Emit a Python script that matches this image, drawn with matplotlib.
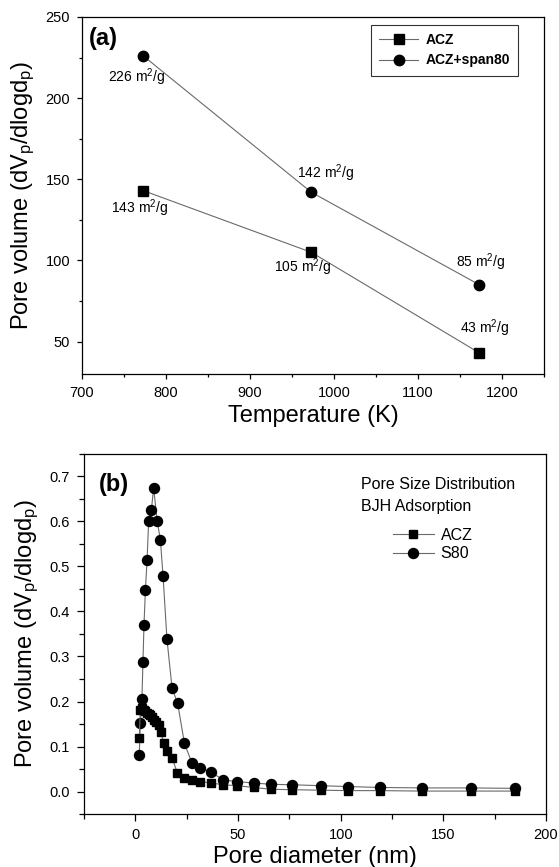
import matplotlib
matplotlib.use("Agg")
import matplotlib.pyplot as plt
from matplotlib import font_manager
from matplotlib.ticker import MultipleLocator

# --- (a) surface area vs calcination temperature ---
temp_k = [773, 973, 1173]
acz_a = [143, 105, 43]
span80_a = [226, 142, 85]
labels_acz = ["143 m$^2$/g", "105 m$^2$/g", "43 m$^2$/g"]
labels_span = ["226 m$^2$/g", "142 m$^2$/g", "85 m$^2$/g"]
# where each label sits (data coords)
pos_acz = [(769, 132), (963, 96), (1179, 58)]
pos_span = [(765, 213), (990, 154), (1175, 99)]

# --- (b) BJH pore size distribution ---
d_acz = [1.9, 2.4, 3.2, 4.0, 4.9, 5.7, 6.5, 7.3, 8.2, 9.0, 10.2, 11.7, 12.4,
         13.8, 15.4, 17.9, 20.5, 23.6, 27.6, 31.7, 36.9, 42.7, 49.6, 57.7,
         66.1, 76.4, 90.2, 103.7, 119.2, 139.8, 163.4, 185]
v_acz = [0.118, 0.181, 0.185, 0.181, 0.178, 0.175, 0.172, 0.169, 0.165, 0.160,
         0.155, 0.148, 0.133, 0.107, 0.089, 0.074, 0.041, 0.030, 0.026, 0.022,
         0.019, 0.015, 0.013, 0.009, 0.005, 0.004, 0.003, 0.002, 0.002, 0.001,
         0.001, 0.001]
d_s80 = [1.9, 2.4, 3.2, 3.7, 4.2, 4.9, 5.7, 6.5, 7.8, 8.9, 10.6, 12.2, 13.5,
         15.4, 17.9, 20.6, 23.9, 27.6, 31.7, 36.9, 42.7, 49.6, 57.7, 66.1,
         76.4, 90.2, 103.7, 119.2, 139.8, 163.4, 185]
v_s80 = [0.081, 0.152, 0.205, 0.287, 0.370, 0.448, 0.514, 0.602, 0.625, 0.675,
         0.602, 0.559, 0.478, 0.338, 0.229, 0.196, 0.107, 0.063, 0.053, 0.043,
         0.026, 0.022, 0.019, 0.016, 0.015, 0.013, 0.011, 0.009, 0.008, 0.008,
         0.007]

names = {f.name for f in font_manager.fontManager.ttflist}
if "Liberation Sans Narrow" in names:
    family = "Liberation Sans Narrow"
    fs_tick, fs_label, fs_note, fs_leg, fs_tag = 12, 19.5, 11.5, 11.5, 19
else:
    family = "Liberation Sans"
    fs_tick, fs_label, fs_note, fs_leg, fs_tag = 10.5, 17, 10, 10, 17

plt.rcParams["font.family"] = [family, "DejaVu Sans"]
plt.rcParams["mathtext.default"] = "regular"

line_c = "#6a6a6a"
ylab = "Pore volume (dV$_p$/dlogd$_p$)"

fig = plt.figure(figsize=(5.59, 8.67), dpi=100)
ax1 = fig.add_axes([0.1467, 0.5686, 0.8265, 0.4118])
ax2 = fig.add_axes([0.1503, 0.0611, 0.8265, 0.4153])

# ---------------- panel (a)
ax1.plot(temp_k, acz_a, color=line_c, lw=0.8, marker="s", ms=7,
         mfc="black", mec="black", label="ACZ")
ax1.plot(temp_k, span80_a, color=line_c, lw=0.8, marker="o", ms=7.5,
         mfc="black", mec="black", label="ACZ+span80")
for (x, y), t in zip(pos_acz, labels_acz):
    ax1.text(x, y, t, ha="center", va="center", fontsize=fs_note)
for (x, y), t in zip(pos_span, labels_span):
    ax1.text(x, y, t, ha="center", va="center", fontsize=fs_note)

ax1.set_xlim(700, 1250)
ax1.set_ylim(30, 250)
ax1.xaxis.set_major_locator(MultipleLocator(100))
ax1.xaxis.set_minor_locator(MultipleLocator(50))
ax1.yaxis.set_major_locator(MultipleLocator(50))
ax1.yaxis.set_minor_locator(MultipleLocator(25))
ax1.set_xlabel("Temperature (K)", fontsize=fs_label, labelpad=4)
ax1.set_ylabel(ylab, fontsize=fs_label, labelpad=6)
ax1.text(0.015, 0.94, "(a)", transform=ax1.transAxes, fontsize=fs_tag,
         fontweight="bold", va="center", ha="left")
leg1 = ax1.legend(loc="upper right", bbox_to_anchor=(0.944, 0.978),
                  borderaxespad=0.0, fancybox=False, edgecolor="black",
                  handlelength=2.8, handletextpad=0.5, borderpad=0.6,
                  labelspacing=0.45, prop={"weight": "bold", "size": fs_leg})
leg1.get_frame().set_linewidth(0.8)

# ---------------- panel (b)
s80_line, = ax2.plot(d_s80, v_s80, color=line_c, lw=0.8, marker="o", ms=7.2,
                     mfc="black", mec="black", label="S80")
acz_line, = ax2.plot(d_acz, v_acz, color=line_c, lw=0.8, marker="s", ms=6,
                     mfc="black", mec="black", label="ACZ")
ax2.set_xlim(-25, 200)
ax2.set_ylim(-0.05, 0.75)
ax2.xaxis.set_major_locator(MultipleLocator(50))
ax2.xaxis.set_minor_locator(MultipleLocator(25))
ax2.yaxis.set_major_locator(MultipleLocator(0.1))
ax2.yaxis.set_minor_locator(MultipleLocator(0.05))
ax2.yaxis.set_major_formatter(matplotlib.ticker.FormatStrFormatter("%.1f"))
ax2.set_xlabel("Pore diameter (nm)", fontsize=fs_label, labelpad=3)
ax2.set_ylabel(ylab, fontsize=fs_label, labelpad=6)
ax2.text(0.032, 0.914, "(b)", transform=ax2.transAxes, fontsize=fs_tag,
         fontweight="bold", va="center", ha="left")
ax2.text(0.600, 0.914, "Pore Size Distribution", transform=ax2.transAxes,
         fontsize=fs_note + 1.5, va="center", ha="left")
ax2.text(0.600, 0.854, "BJH Adsorption", transform=ax2.transAxes,
         fontsize=fs_note + 1.5, va="center", ha="left")
ax2.legend(handles=[acz_line, s80_line], loc="upper left",
           bbox_to_anchor=(0.668, 0.795), frameon=False, handlelength=2.6,
           handletextpad=0.4, borderpad=0.0, borderaxespad=0.0,
           labelspacing=0.22, prop={"size": fs_note + 1.5})

for ax, maj, mnr in ((ax1, 3.5, 2.5), (ax2, 5, 3.5)):
    ax.tick_params(which="major", direction="out", length=maj, width=0.9,
                   labelsize=fs_tick, top=False, right=False, pad=5)
    ax.tick_params(which="minor", direction="out", length=mnr, width=0.9,
                   top=False, right=False)
    for sp in ax.spines.values():
        sp.set_linewidth(0.9)

fig.savefig("out.png", dpi=100)
